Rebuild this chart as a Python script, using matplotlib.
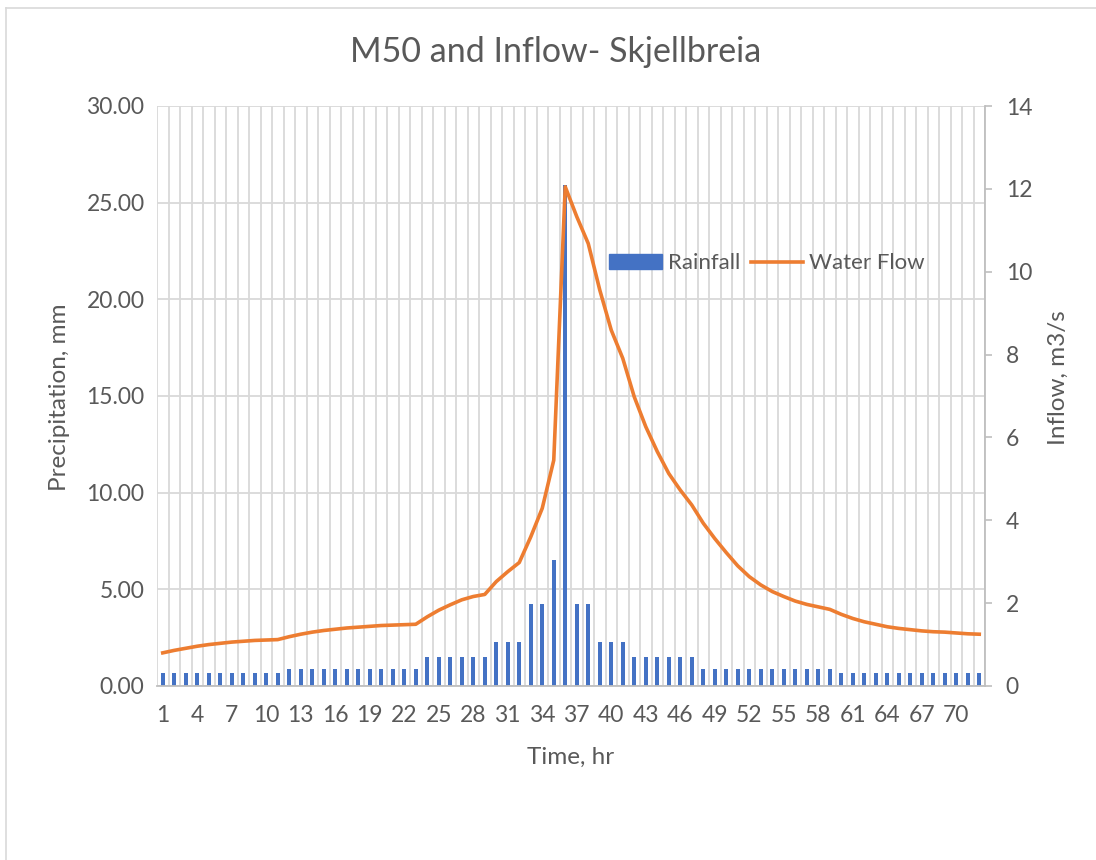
import numpy as np
import matplotlib
matplotlib.use("Agg")
import matplotlib.pyplot as plt
from matplotlib.lines import Line2D

plt.rcParams["font.family"] = ["Lato", "DejaVu Sans"]

TEXT = "#595959"
GRID = "#D9D9D9"
AXIS = "#BFBFBF"
BLUE = "#4472C4"
ORANGE = "#ED7D31"

hours = list(range(1, 73))

# rainfall per hour (mm)
rainfall = (
    [0.66] * 11
    + [0.87] * 12
    + [1.5] * 6
    + [2.3] * 3
    + [4.25] * 2
    + [6.5, 25.9]
    + [4.25] * 2
    + [2.3] * 3
    + [1.5] * 6
    + [0.87] * 12
    + [0.66] * 13
)

# inflow (m3/s)
water_flow = [
    0.80, 0.86, 0.91, 0.96, 1.00, 1.03, 1.06, 1.08, 1.10, 1.11, 1.12, 1.19,
    1.25, 1.30, 1.34, 1.37, 1.40, 1.42, 1.44, 1.46, 1.47, 1.48, 1.49, 1.67,
    1.83, 1.96, 2.08, 2.16, 2.21, 2.52, 2.76, 2.98, 3.60, 4.29, 5.45, 12.05,
    11.33, 10.68, 9.56, 8.59, 7.91, 6.98, 6.26, 5.66, 5.13, 4.73, 4.37, 3.93,
    3.56, 3.22, 2.90, 2.64, 2.44, 2.28, 2.16, 2.05, 1.97, 1.91, 1.85, 1.73,
    1.63, 1.55, 1.49, 1.43, 1.39, 1.36, 1.33, 1.31, 1.30, 1.28, 1.26, 1.25,
]

W, H = 1096, 860
fig = plt.figure(figsize=(W / 100, H / 100), dpi=100)
ax = fig.add_axes([157 / W, 1 - 686 / H, (985 - 157) / W, (686 - 106) / H])
ax2 = ax.twinx()

ax.bar(hours, rainfall, width=0.38, color=BLUE, zorder=2)
ax2.plot(hours, water_flow, color=ORANGE, linewidth=2.6, solid_joinstyle="round")

ax.set_xlim(0.5, 72.5)
ax.set_ylim(0, 30)
ax2.set_ylim(0, 14)

ax.set_yticks(np.arange(0, 31, 5))
ax.set_yticklabels([f"{v:.2f}" for v in np.arange(0, 31, 5)])
ax2.set_yticks(np.arange(0, 15, 2))
ax.set_xticks(hours[::3])
ax.set_xticks(np.arange(0.5, 73, 1), minor=True)

ax.grid(which="minor", axis="x", color=GRID, linewidth=1.3)
ax.grid(which="major", axis="y", color=GRID, linewidth=1.3)
ax.set_axisbelow(True)

ax.tick_params(axis="x", which="both", length=0, labelsize=16.5, labelcolor=TEXT, pad=14)
ax.tick_params(axis="y", length=0, labelsize=16.5, labelcolor=TEXT, pad=9)
ax2.tick_params(axis="y", length=5, width=1.2, color=AXIS, labelsize=16.5, labelcolor=TEXT, pad=10)

for a in (ax, ax2):
    for side in ("top", "left", "right", "bottom"):
        a.spines[side].set_visible(False)
ax2.spines["right"].set_visible(True)
ax2.spines["right"].set_color(AXIS)
ax2.spines["right"].set_linewidth(1.3)
ax.spines["bottom"].set_visible(True)
ax.spines["bottom"].set_color(AXIS)
ax.spines["bottom"].set_linewidth(1.3)

fig.text(556 / W, 1 - 52 / H, "M50 and Inflow- Skjellbreia", fontsize=24.5,
         color=TEXT, ha="center", va="center")
fig.text(60 / W, 1 - 397 / H, "Precipitation, mm", fontsize=17.5, color=TEXT,
         rotation=90, ha="center", va="center")
fig.text(1058 / W, 1 - 378 / H, "Inflow, m3/s", fontsize=17.5, color=TEXT,
         rotation=90, ha="center", va="center")
fig.text(571 / W, 1 - 757 / H, "Time, hr", fontsize=17.5, color=TEXT,
         ha="center", va="center")

handles = [
    plt.Rectangle((0, 0), 1, 1, color=BLUE),
    Line2D([0], [0], color=ORANGE, linewidth=2.6),
]
leg = ax2.legend(handles, ["Rainfall", "Water Flow"], ncol=2, frameon=False,
                 loc="center", bbox_to_anchor=(0.737, 0.729), fontsize=16,
                 handlelength=2.35, handleheight=0.63, handletextpad=0.3,
                 columnspacing=0.45, labelcolor=TEXT)

# chart area border (only top and left edges are inside the screenshot)
fig.add_artist(Line2D([6 / W, 6 / W], [0, 1 - 8 / H], color=GRID, linewidth=1.2))
fig.add_artist(Line2D([6 / W, 1], [1 - 8 / H, 1 - 8 / H], color=GRID, linewidth=1.2))

fig.savefig("out.png", dpi=100)
